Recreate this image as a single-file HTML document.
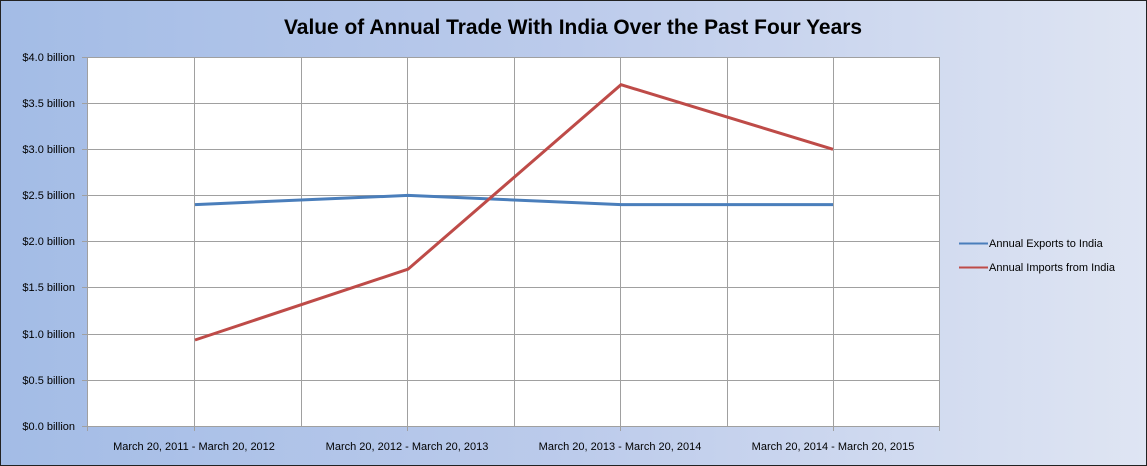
<!DOCTYPE html>
<html><head><style>
body{margin:0;}
svg{display:block;font-family:"Liberation Sans",sans-serif;}
</style></head><body>
<svg width="1147" height="466" xmlns="http://www.w3.org/2000/svg">
<defs><linearGradient id="g" x1="0" x2="1" y1="0" y2="0">
<stop offset="0" stop-color="#a3bce6"/><stop offset="0.5" stop-color="#bccbeb"/><stop offset="1" stop-color="#dfe5f3"/></linearGradient></defs>
<rect x="0.5" y="0.5" width="1146" height="465" fill="url(#g)" stroke="#222"/>
<text x="573" y="34" text-anchor="middle" font-size="21" font-weight="bold" fill="#000" textLength="578" lengthAdjust="spacingAndGlyphs">Value of Annual  Trade With India Over the Past Four Years</text>
<rect x="88" y="57" width="852" height="369" fill="#fff"/>
<g stroke="#a0a0a0" stroke-width="1">
<line x1="194.5" y1="57" x2="194.5" y2="431"/><line x1="301.5" y1="57" x2="301.5" y2="426"/>
<line x1="407.5" y1="57" x2="407.5" y2="431"/><line x1="514.5" y1="57" x2="514.5" y2="426"/>
<line x1="620.5" y1="57" x2="620.5" y2="431"/><line x1="727.5" y1="57" x2="727.5" y2="426"/>
<line x1="833.5" y1="57" x2="833.5" y2="431"/><line x1="939.5" y1="57" x2="939.5" y2="431"/>
<line x1="82" y1="57.5" x2="940" y2="57.5"/><line x1="82" y1="103.5" x2="940" y2="103.5"/>
<line x1="82" y1="149.5" x2="940" y2="149.5"/><line x1="82" y1="195.5" x2="940" y2="195.5"/>
<line x1="82" y1="241.5" x2="940" y2="241.5"/><line x1="82" y1="287.5" x2="940" y2="287.5"/>
<line x1="82" y1="334.5" x2="940" y2="334.5"/><line x1="82" y1="380.5" x2="940" y2="380.5"/>
<line x1="82" y1="426.5" x2="940" y2="426.5"/><line x1="87.5" y1="57" x2="87.5" y2="431"/>
</g>
<g font-size="11" fill="#000" text-anchor="end">
<text x="75" y="61">$4.0 billion</text><text x="75" y="107">$3.5 billion</text>
<text x="75" y="153">$3.0 billion</text><text x="75" y="199">$2.5 billion</text>
<text x="75" y="245">$2.0 billion</text><text x="75" y="291">$1.5 billion</text>
<text x="75" y="338">$1.0 billion</text><text x="75" y="384">$0.5 billion</text>
<text x="75" y="430">$0.0 billion</text>
</g>
<g font-size="11" fill="#000" text-anchor="middle">
<text x="194" y="450">March 20, 2011 - March 20, 2012</text>
<text x="407" y="450">March 20, 2012 - March 20, 2013</text>
<text x="620" y="450">March 20, 2013 - March 20, 2014</text>
<text x="833" y="450">March 20, 2014 - March 20, 2015</text>
</g>
<polyline points="195,204.6 408,195.4 621,204.6 833,204.6" fill="none" stroke="#4a7ebb" stroke-width="3"/>
<polyline points="195,340 408,269.2 621,84.7 833,149.3" fill="none" stroke="#be4b48" stroke-width="3"/>
<line x1="959" y1="243.5" x2="988" y2="243.5" stroke="#4a7ebb" stroke-width="2"/>
<line x1="959" y1="267.5" x2="988" y2="267.5" stroke="#be4b48" stroke-width="2"/>
<g font-size="11" fill="#000"><text x="989" y="247">Annual Exports to India</text><text x="989" y="271">Annual Imports  from India</text></g>
</svg>
</body></html>
